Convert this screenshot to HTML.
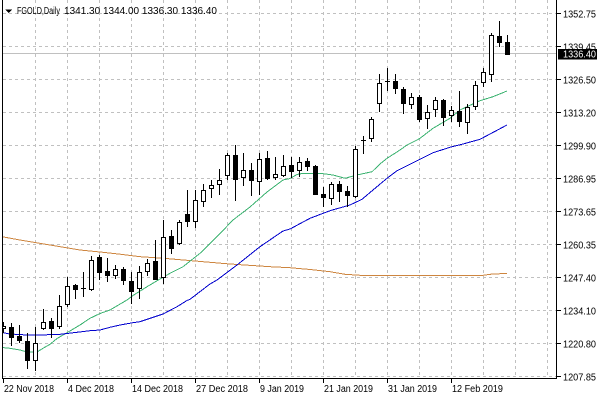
<!DOCTYPE html>
<html><head><meta charset="utf-8"><style>
html,body{margin:0;padding:0;background:#fff;}
svg{display:block;}
text{font-family:"Liberation Sans",Arial,sans-serif;font-size:10px;fill:#000;}
</style></head><body>
<svg width="600" height="400" viewBox="0 0 600 400" xmlns="http://www.w3.org/2000/svg" shape-rendering="crispEdges">
<defs><clipPath id="pa"><rect x="3" y="0" width="553" height="378"/></clipPath></defs>
<rect width="600" height="400" fill="#fff"/>
<g stroke="#c0c0c0" stroke-width="1" stroke-dasharray="3,3" fill="none">
<path d="M3 13.5H556M3 46.5H556M3 79.5H556M3 112.5H556M3 145.5H556M3 178.5H556M3 211.5H556M3 244.5H556M3 277.5H556M3 310.5H556M3 343.5H556M3 376.5H556"/>
<path d="M35.5 0V378M67.5 0V378M99.5 0V378M131.5 0V378M163.5 0V378M195.5 0V378M227.5 0V378M259.5 0V378M291.5 0V378M323.5 0V378M355.5 0V378M387.5 0V378M419.5 0V378M451.5 0V378M483.5 0V378M515.5 0V378M547.5 0V378"/>
</g>
<line x1="3" y1="53.5" x2="556" y2="53.5" stroke="#c0c0c0" stroke-width="1"/>
<g clip-path="url(#pa)" fill="none" stroke-width="1">
<polyline stroke="#CD853F" points="2,236.7 20,240 40,243.3 60,246.7 80,250 100,252 120,254.2 140,256.7 160,258 180,259.7 210,262.3 230,264 270,266.7 290,267.7 310,269.5 330,271.7 345,274.3 360,275.3 483,275.3 490,274.3 507,273.3"/>
<polyline stroke="#3CB371" points="2,347.5 10,348.3 20,350 27,352 37,352 43,348.3 50,344.3 57,338.5 67,332.7 80,325 90,318.3 100,313.5 110,310 127,300 133,295.5 147,286.7 160,279 170,273.3 183,266.7 200,253.3 217,236.7 233,220 250,207 267,192 283,180 290,178.5 297,174.5 303,173.3 320,173.3 333,175 345,178.3 357,175 372,171.7 380,164 387,158.3 400,150 407,145 417,140 420,138.3 433,128.3 450,118.3 460,110 467,106.7 480,100.7 493,96.7 507,91"/>
<polyline stroke="#0000CD" points="2,332.5 10,334 27,335 40,335 60,334.3 67,333.5 90,330.7 100,330 110,327.3 120,325 133,322.7 140,321.7 163,314 177,306.7 187,300.5 190,299.3 210,284 217,280 237,265 260,246.7 283,231 290,229 310,218.3 330,210.7 350,205 362,199.3 373,190 387,178.3 397,170.7 417,160.7 433,152.7 450,147.3 463,144 480,139.3 507,125"/>
</g>
<g clip-path="url(#pa)">
<g stroke="#000" stroke-width="1">
<path d="M3.5 322V333M11.5 323V346M19.5 325V343M27.5 333V369M35.5 327V371M43.5 309V330M51.5 318V338M59.5 295V329M67.5 277V307M75.5 284V299M83.5 272V297M91.5 256V291M99.5 255V280M107.5 258V282M115.5 265V279M123.5 267V285M131.5 272V304M139.5 266V299M147.5 259V276M155.5 240V280M163.5 220V284M171.5 230V254M179.5 220V245M187.5 190V227M195.5 190V228M203.5 184V207M211.5 180V198M219.5 169V195M227.5 153V180M235.5 145V201M243.5 153V186M251.5 163V196M259.5 153V195M267.5 151V180M275.5 157V180M283.5 155V177M291.5 157V178M299.5 157V177M307.5 158V171M315.5 165V195M323.5 187V207M331.5 182V205M339.5 181V202M347.5 186V207M355.5 146V198M363.5 136V154M371.5 117V142M379.5 74V112M387.5 68V91M395.5 74V94M403.5 87V114M411.5 93V109M419.5 95V122M427.5 105V129M435.5 97V117M443.5 99V126M451.5 106V122M459.5 91V127M467.5 104V134M475.5 81V110M483.5 68V87M491.5 33V82M499.5 21V47M507.5 35V55"/>
<path d="M81 288.5H86M361 140.5H366M385 81.5H390"/>
</g>
<g fill="#000">
<rect x="9" y="327" width="5" height="11"/>
<rect x="17" y="336" width="5" height="5"/>
<rect x="25" y="341" width="5" height="20"/>
<rect x="49" y="321" width="5" height="8"/>
<rect x="73" y="285" width="5" height="5"/>
<rect x="97" y="257" width="5" height="16"/>
<rect x="105" y="271" width="5" height="5"/>
<rect x="121" y="269" width="5" height="12"/>
<rect x="129" y="281" width="5" height="11"/>
<rect x="153" y="261" width="5" height="19"/>
<rect x="169" y="236" width="5" height="13"/>
<rect x="185" y="214" width="5" height="8"/>
<rect x="233" y="155" width="5" height="25"/>
<rect x="249" y="170" width="5" height="11"/>
<rect x="265" y="158" width="5" height="21"/>
<rect x="289" y="165" width="5" height="7"/>
<rect x="305" y="161" width="5" height="6"/>
<rect x="313" y="166" width="5" height="29"/>
<rect x="321" y="194" width="5" height="4"/>
<rect x="337" y="184" width="5" height="8"/>
<rect x="345" y="191" width="5" height="5"/>
<rect x="393" y="81" width="5" height="8"/>
<rect x="401" y="89" width="5" height="15"/>
<rect x="417" y="97" width="5" height="23"/>
<rect x="441" y="100" width="5" height="18"/>
<rect x="457" y="111" width="5" height="11"/>
<rect x="497" y="36" width="5" height="7"/>
<rect x="505" y="42" width="5" height="13"/>
</g>
<g fill="#fff" stroke="#000" stroke-width="1">
<rect x="1.5" y="326.5" width="4" height="2"/>
<rect x="33.5" y="343.5" width="4" height="17"/>
<rect x="41.5" y="322.5" width="4" height="6"/>
<rect x="57.5" y="306.5" width="4" height="20"/>
<rect x="65.5" y="286.5" width="4" height="18"/>
<rect x="89.5" y="260.5" width="4" height="29"/>
<rect x="113.5" y="269.5" width="4" height="6"/>
<rect x="137.5" y="272.5" width="4" height="16"/>
<rect x="145.5" y="263.5" width="4" height="8"/>
<rect x="161.5" y="237.5" width="4" height="40"/>
<rect x="177.5" y="222.5" width="4" height="21"/>
<rect x="193.5" y="200.5" width="4" height="21"/>
<rect x="201.5" y="190.5" width="4" height="11"/>
<rect x="209.5" y="185.5" width="4" height="3"/>
<rect x="217.5" y="180.5" width="4" height="4"/>
<rect x="225.5" y="155.5" width="4" height="20"/>
<rect x="241.5" y="170.5" width="4" height="7"/>
<rect x="257.5" y="159.5" width="4" height="22"/>
<rect x="273.5" y="174.5" width="4" height="3"/>
<rect x="281.5" y="166.5" width="4" height="9"/>
<rect x="297.5" y="162.5" width="4" height="8"/>
<rect x="329.5" y="184.5" width="4" height="14"/>
<rect x="353.5" y="149.5" width="4" height="47"/>
<rect x="369.5" y="119.5" width="4" height="19"/>
<rect x="377.5" y="83.5" width="4" height="20"/>
<rect x="409.5" y="97.5" width="4" height="7"/>
<rect x="425.5" y="112.5" width="4" height="6"/>
<rect x="433.5" y="100.5" width="4" height="9"/>
<rect x="449.5" y="110.5" width="4" height="5"/>
<rect x="465.5" y="107.5" width="4" height="15"/>
<rect x="473.5" y="85.5" width="4" height="21"/>
<rect x="481.5" y="72.5" width="4" height="10"/>
<rect x="489.5" y="35.5" width="4" height="39"/>
</g>
</g>
<g stroke="#000" stroke-width="1" fill="none">
<line x1="2.5" y1="0" x2="2.5" y2="379"/>
<line x1="556.5" y1="0" x2="556.5" y2="379"/>
<line x1="2" y1="378.5" x2="557" y2="378.5"/>
<path d="M557 13.5H561M557 46.5H561M557 79.5H561M557 112.5H561M557 145.5H561M557 178.5H561M557 211.5H561M557 244.5H561M557 277.5H561M557 310.5H561M557 343.5H561M557 376.5H561"/>
<path d="M3.5 379V383M67.5 379V383M131.5 379V383M195.5 379V383M259.5 379V383M323.5 379V383M387.5 379V383M451.5 379V383"/>
</g>
<polygon points="5,9.5 12,9.5 8.5,13" fill="#000"/>
<text x="17" y="14" textLength="43" lengthAdjust="spacingAndGlyphs">FGOLD,Daily</text>
<text x="64" y="14" textLength="153" lengthAdjust="spacingAndGlyphs">1341.30 1344.00 1336.30 1336.40</text>
<g>
<text x="563" y="17.5" textLength="33" lengthAdjust="spacingAndGlyphs">1352.75</text>
<text x="563" y="50.5" textLength="33" lengthAdjust="spacingAndGlyphs">1339.45</text>
<text x="563" y="83.5" textLength="33" lengthAdjust="spacingAndGlyphs">1326.50</text>
<text x="563" y="116.5" textLength="33" lengthAdjust="spacingAndGlyphs">1313.20</text>
<text x="563" y="149.5" textLength="33" lengthAdjust="spacingAndGlyphs">1299.90</text>
<text x="563" y="182.5" textLength="33" lengthAdjust="spacingAndGlyphs">1286.95</text>
<text x="563" y="215.5" textLength="33" lengthAdjust="spacingAndGlyphs">1273.65</text>
<text x="563" y="248.5" textLength="33" lengthAdjust="spacingAndGlyphs">1260.35</text>
<text x="563" y="281.5" textLength="33" lengthAdjust="spacingAndGlyphs">1247.40</text>
<text x="563" y="314.5" textLength="33" lengthAdjust="spacingAndGlyphs">1234.10</text>
<text x="563" y="347.5" textLength="33" lengthAdjust="spacingAndGlyphs">1220.80</text>
<text x="563" y="380.5" textLength="33" lengthAdjust="spacingAndGlyphs">1207.85</text>
</g>
<rect x="558" y="49" width="39" height="10.5" fill="#000"/>
<text x="563" y="57.5" textLength="33" lengthAdjust="spacingAndGlyphs" style="fill:#fff">1336.40</text>
<g>
<text x="4" y="392" textLength="50" lengthAdjust="spacingAndGlyphs">22 Nov 2018</text>
<text x="68" y="392" textLength="46" lengthAdjust="spacingAndGlyphs">4 Dec 2018</text>
<text x="132" y="392" textLength="51" lengthAdjust="spacingAndGlyphs">14 Dec 2018</text>
<text x="196" y="392" textLength="52" lengthAdjust="spacingAndGlyphs">27 Dec 2018</text>
<text x="260" y="392" textLength="44" lengthAdjust="spacingAndGlyphs">9 Jan 2019</text>
<text x="324" y="392" textLength="49" lengthAdjust="spacingAndGlyphs">21 Jan 2019</text>
<text x="388" y="392" textLength="49" lengthAdjust="spacingAndGlyphs">31 Jan 2019</text>
<text x="452" y="392" textLength="51" lengthAdjust="spacingAndGlyphs">12 Feb 2019</text>
</g>
</svg>
</body></html>
